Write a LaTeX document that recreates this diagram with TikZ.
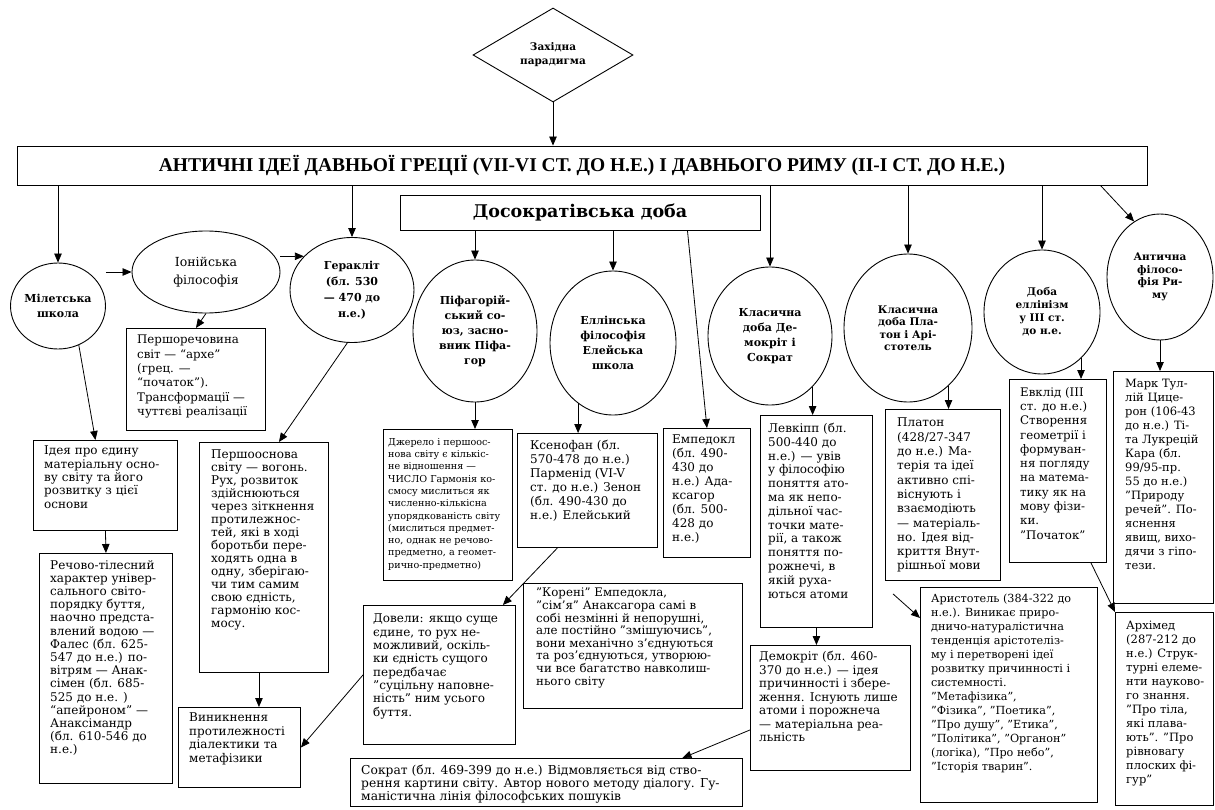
\documentclass[tikz,border=0pt]{standalone}
\usepackage{fontspec}
\setmainfont{DejaVu Serif}
\newfontfamily\headfont{Liberation Serif}
\usetikzlibrary{shapes.geometric}
\usetikzlibrary{arrows.meta}

\tikzset{
  box/.style={draw, line width=0.9pt, anchor=north west, inner sep=0pt},
  txt/.style={anchor=north west, align=left, inner sep=0pt, font=\fontsize{12}{13.6}\selectfont},
  oval/.style={draw, ellipse, line width=0.9pt, inner sep=0pt, align=center, font=\bfseries\fontsize{11}{15}\selectfont},
  arr/.style={-{Triangle[length=9pt,width=7.5pt]}, line width=0.8pt}
}

\begin{document}
\begin{tikzpicture}[x=1pt,y=-1pt]
\useasboundingbox (0,0) rectangle (1215,810);

\node [draw, diamond, line width=0.9pt, minimum width=160, minimum height=94, inner sep=0pt, align=center, font=\bfseries\fontsize{10.5}{14}\selectfont] (west) at (553,55) {Західна\\парадигма};
\node [draw, line width=0.9pt, minimum width=1130, minimum height=39, font=\headfont\bfseries\fontsize{19.5}{22}\selectfont] (head) at (582,165.5) {АНТИЧНІ ІДЕЇ ДАВНЬОЇ ГРЕЦІЇ (VII-VI СТ. ДО Н.Е.) І ДАВНЬОГО РИМУ (II-I СТ. ДО Н.Е.)};
\node [draw, line width=0.9pt, minimum width=360, minimum height=35, font=\bfseries\fontsize{17.5}{20}\selectfont] (dosokr) at (580,212.5) {Досократівська доба};

\node [oval, minimum width=92, minimum height=86] (milet) at (58,306) {Мілетська\\школа};
\node [oval, minimum width=148, minimum height=82, font=\fontsize{12.5}{18}\selectfont] (ionia) at (206,272) {Іонійська\\філософія};
\node [oval, minimum width=124, minimum height=105, font=\bfseries\fontsize{11}{16}\selectfont] (heraclit) at (352,290) {Геракліт\\(бл. 530\\— 470 до\\н.е.)};
\node [oval, minimum width=124, minimum height=142] (pythag) at (475,331) {Піфагорій-\\ський со-\\юз, засно-\\вник Піфа-\\гор};
\node [oval, minimum width=126, minimum height=144] (eleat) at (613,343) {Еллінська\\філософія\\Елейська\\школа};
\node [oval, minimum width=124, minimum height=138] (democr) at (770,336) {Класична\\доба Де-\\мокріт і\\Сократ};
\node [oval, minimum width=128, minimum height=148, font=\bfseries\fontsize{10.5}{12.5}\selectfont] (plato) at (908,328) {Класична\\доба Пла-\\тон і Арі-\\стотель};
\node [oval, minimum width=116, minimum height=124, font=\bfseries\fontsize{10.5}{13}\selectfont] (hellen) at (1042,312) {Доба\\еллінізм\\у ІІІ ст.\\до н.е.};
\node [oval, minimum width=106, minimum height=126, font=\bfseries\fontsize{10.5}{12.5}\selectfont] (rome) at (1160,277) {Антична\\філосо-\\фія Ри-\\му};

\node [box, minimum width=139, minimum height=102] (pershorech) at (126,328) {};
\node [txt, font=\fontsize{11.8}{14.3}\selectfont] (pershorech-t) at ([xshift=11,yshift=-7]pershorech.north west) {Першоречовина\\світ — “архе”\\(грец. —\\“початок”).\\Трансформації —\\чуттєві реалізації};
\node [box, minimum width=144, minimum height=90] (idea) at (33,440) {};
\node [txt, font=\fontsize{12}{13.3}\selectfont] (idea-t) at ([xshift=11,yshift=-6]idea.north west) {Ідея про єдину\\матеріальну осно-\\ву світу та його\\розвитку з цієї\\основи};
\node [box, minimum width=133, minimum height=230] (rechovo) at (39,553) {};
\node [txt, font=\fontsize{12}{13.2}\selectfont] (rechovo-t) at ([xshift=11,yshift=-7]rechovo.north west) {Речово-тілесний\\характер універ-\\сального світо-\\порядку буття,\\наочно предста-\\влений водою —\\Фалес (бл. 625-\\547 до н.е.) по-\\вітрям — Анак-\\сімен (бл. 685-\\525 до н.е. )\\“апейроном” —\\Анаксімандр\\(бл. 610-546 до\\н.е.)};
\node [box, minimum width=129, minimum height=230] (pershoosn) at (199,442) {};
\node [txt, font=\fontsize{12}{13}\selectfont] (pershoosn-t) at ([xshift=12,yshift=-8]pershoosn.north west) {Першооснова\\світу — вогонь.\\Рух, розвиток\\здійснюються\\через зіткнення\\протилежнос-\\тей, які в ході\\боротьби пере-\\ходять одна в\\одну, зберігаю-\\чи тим самим\\свою єдність,\\гармонію кос-\\мосу.};
\node [box, minimum width=122, minimum height=80] (vynyk) at (178,707) {};
\node [txt, font=\fontsize{12}{13.5}\selectfont] (vynyk-t) at ([xshift=11,yshift=-6]vynyk.north west) {Виникнення\\протилежності\\діалектики та\\метафізики};
\node [box, minimum width=129, minimum height=151] (dzherelo) at (383,429) {};
\node [txt, font=\fontsize{9.6}{12.3}\selectfont] (dzherelo-t) at ([xshift=5,yshift=-9]dzherelo.north west) {Джерело і першоос-\\нова світу є кількіс-\\не відношення —\\ЧИСЛО Гармонія ко-\\смосу мислиться як\\численно-кількісна\\упорядкованість світу\\(мислиться предмет-\\но, однак не речово-\\предметно, а геомет-\\рично-предметно)};
\node [box, minimum width=140, minimum height=114] (ksen) at (517,433) {};
\node [txt, font=\fontsize{12}{14}\selectfont] (ksen-t) at ([xshift=13,yshift=-7]ksen.north west) {Ксенофан (бл.\\570-478 до н.е.)\\Парменід (VI-V\\ст. до н.е.) Зенон\\(бл. 490-430 до\\н.е.) Елейський};
\node [box, minimum width=87, minimum height=129] (emp) at (663,428) {};
\node [txt, font=\fontsize{12}{14}\selectfont] (emp-t) at ([xshift=9,yshift=-7]emp.north west) {Емпедокл\\(бл. 490-\\430 до\\н.е.) Ада-\\ксагор\\(бл. 500-\\428 до\\н.е.)};
\node [box, minimum width=112, minimum height=212] (levk) at (760,415) {};
\node [txt, font=\fontsize{12}{13.8}\selectfont] (levk-t) at ([xshift=8,yshift=-8]levk.north west) {Левкіпп (бл.\\500-440 до\\н.е.) — увів\\у філософію\\поняття ато-\\ма як непо-\\дільної час-\\точки мате-\\рії, а також\\поняття по-\\рожнечі, в\\якій руха-\\ються атоми};
\node [box, minimum width=115, minimum height=171] (platob) at (885,409) {};
\node [txt, font=\fontsize{12}{14.3}\selectfont] (platob-t) at ([xshift=12,yshift=-9]platob.north west) {Платон\\(428/27-347\\до н.е.) Ма-\\терія та ідеї\\активно спі-\\віснують і\\взаємодіють\\— матеріаль-\\но. Ідея від-\\криття Внут-\\рішньої мови};
\node [box, minimum width=97, minimum height=183] (evkl) at (1009,379) {};
\node [txt, font=\fontsize{11.8}{14.3}\selectfont] (evkl-t) at ([xshift=11,yshift=-8]evkl.north west) {Евклід (ІІІ\\ст. до н.е.)\\Створення\\геометрії і\\формуван-\\ня погляду\\на матема-\\тику як на\\мову фізи-\\ки.\\"Початок"};
\node [box, minimum width=100, minimum height=232] (mark) at (1113,371) {};
\node [txt, font=\fontsize{11.5}{14}\selectfont] (mark-t) at ([xshift=12,yshift=-8]mark.north west) {Марк Тул-\\лій Цице-\\рон (106-43\\до н.е.) Ті-\\та Лукрецій\\Кара (бл.\\99/95-пр.\\55 до н.е.)\\"Природу\\речей". По-\\яснення\\явищ, вихо-\\дячи з гіпо-\\тези.};
\node [box, minimum width=98, minimum height=193] (arkh) at (1115,612) {};
\node [txt, font=\fontsize{11.5}{14}\selectfont] (arkh-t) at ([xshift=11,yshift=-9]arkh.north west) {Архімед\\(287-212 до\\н.е.) Струк-\\турні елеме-\\нти науково-\\го знання.\\"Про тіла,\\які плава-\\ють". "Про\\рівновагу\\плоских фі-\\гур"};
\node [box, minimum width=177, minimum height=215] (arist) at (920,587) {};
\node [txt, font=\fontsize{11.2}{14}\selectfont] (arist-t) at ([xshift=11,yshift=-7]arist.north west) {Аристотель (384-322 до\\н.е.). Виникає приро-\\дничо-натуралістична\\тенденція арістотеліз-\\му і перетворені ідеї\\розвитку причинності і\\системності.\\"Метафізика",\\"Фізика", "Поетика",\\"Про душу", "Етика",\\"Політика", "Органон"\\(логіка), "Про небо",\\"Історія тварин".};
\node [box, minimum width=160, minimum height=125] (demb) at (750,645) {};
\node [txt, font=\fontsize{12}{13.5}\selectfont] (demb-t) at ([xshift=9,yshift=-6]demb.north west) {Демокріт (бл. 460-\\370 до н.е.) — ідея\\причинності і збере-\\ження. Існують лише\\атоми і порожнеча\\— матеріальна реа-\\льність};
\node [box, minimum width=152, minimum height=139] (dovely) at (363,605) {};
\node [txt, font=\fontsize{12}{13.3}\selectfont] (dovely-t) at ([xshift=10,yshift=-9]dovely.north west) {Довели: якщо суще\\єдине, то рух не-\\можливий, оскіль-\\ки єдність сущого\\передбачає\\"суцільну наповне-\\ність" ним усього\\буття.};
\node [box, minimum width=219, minimum height=125] (koreni) at (523,583) {};
\node [txt, font=\fontsize{11.8}{12.6}\selectfont] (koreni-t) at ([xshift=13,yshift=-5]koreni.north west) {"Корені" Емпедокла,\\"сім'я" Анаксагора самі в\\собі незмінні й непорушні,\\але постійно "змішуючись",\\вони механічно з'єднуються\\та роз'єднуються, утворюю-\\чи все багатство навколиш-\\нього світу};
\node [box, minimum width=392, minimum height=48] (sokrat) at (350,758) {};
\node [txt, font=\fontsize{12.3}{13}\selectfont] (sokrat-t) at ([xshift=11,yshift=-7]sokrat.north west) {Сократ (бл. 469-399 до н.е.) Відмовляється від ство-\\рення картини світу. Автор нового методу діалогу. Гу-\\маністична лінія філософських пошуків};

\draw [arr] (west.south) -- (west.south |- head.north);
\draw [arr] (head.south -| milet.north) -- (milet.north);
\draw [arr] (head.south -| heraclit.north) -- (heraclit.north);
\draw [arr] (head.south -| democr.north) -- (democr.north);
\draw [arr] (head.south -| plato.north) -- (plato.north);
\draw [arr] (head.south -| hellen.north) -- (hellen.north);
\draw [arr] ([xshift=-47]head.south east) -- (rome.115);
\draw [arr] (milet.east |- ionia.west) -- (ionia.west);
\draw [arr] (ionia.east |- heraclit.145) -- (heraclit.145);
\draw [arr] (dosokr.south -| pythag.north) -- (pythag.north);
\draw [arr] (dosokr.south -| eleat.north) -- (eleat.north);
\draw [arr] ([xshift=-73]dosokr.south east) -- (emp.north);
\draw [arr] (milet.-62) -- ([xshift=-10]idea.north);
\draw [arr] (ionia.south) -- (pershorech.north);
\draw [arr] (heraclit.-95) -- ([xshift=15]pershoosn.north);
\draw [arr] (pythag.south) -- (pythag.south |- dzherelo.north);
\draw [arr] (eleat.-120) -- (eleat.-120 |- ksen.north);
\draw [arr] (democr.-50) -- (democr.-50 |- levk.north);
\draw [arr] (plato.-55) -- (plato.-55 |- platob.north);
\draw [arr] (hellen.-50) -- (hellen.-50 |- evkl.north);
\draw [arr] (rome.south) -- (rome.south |- mark.north);
\draw [arr] (idea.south) -- (rechovo.north);
\draw [arr] ([xshift=-5]pershoosn.south) -- ([xshift=-5]pershoosn.south |- vynyk.north);
\draw [arr] (dovely.west) -- (vynyk.east);
\draw [arr] ([xshift=-30]ksen.south) -- ([xshift=-13]dovely.north east);
\draw [arr] (levk.south) -- (levk.south |- demb.north);
\draw [arr] ([yshift=-22]demb.west) -- ([xshift=136]sokrat.north);
\draw [arr] ([xshift=8,yshift=-13]platob.south west) -- ([yshift=-31]arist.north west);
\draw [arr] ([xshift=33]evkl.south) -- (arkh.north west);
\end{tikzpicture}
\end{document}
